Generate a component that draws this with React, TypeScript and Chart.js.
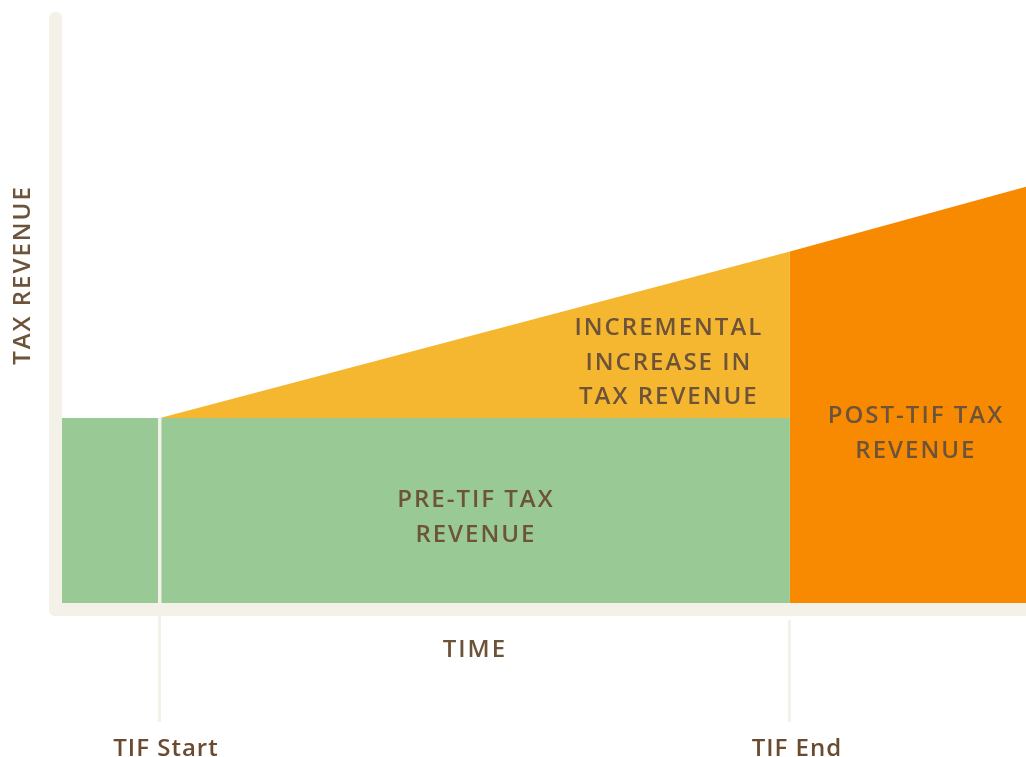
import React, { useEffect, useRef } from "react";
import { Chart, registerables } from "chart.js";

Chart.register(...registerables);

// Timeline (x) in years, revenue (y) in index units
const timeBounds = [0, 9.84];
const tifMarkers = [1, 7.43]; // TIF Start, TIF End
const markerLabels = ["TIF Start", "TIF End"];
const revenueMax = 326;
const baseRevenue = 100;
const preTifX = [0, 7.43];
const preTifY = [100, 100];
const incrementX = [1, 7.43];
const incrementY = [100, 190];
const postTifX = [7.43, 9.84];
const postTifY = [190, 225];
const incrementLabel = ["INCREMENTAL", "INCREASE IN", "TAX REVENUE"];
const preTifLabel = ["PRE-TIF TAX", "REVENUE"];
const postTifLabel = ["POST-TIF TAX", "REVENUE"];
const xAxisTitle = "TIME";
const yAxisTitle = "TAX REVENUE";

const GREEN = "#99c994";
const YELLOW = "#f6b730";
const ORANGE = "#f88a02";
const BEIGE = "#f4f1e9";
const TEXT = "#6d5339";
const TEXT_DARK = "#6a4b2f";
const FONT = "600 24px 'Open Sans'";

const toPoints = (xs: number[], ys: number[]) => xs.map((x, i) => ({ x, y: ys[i] }));

const decorPlugin = {
  id: "decor",
  beforeDatasetsDraw(chart: any) {
    const ctx = chart.ctx;
    ctx.save();
    ctx.fillStyle = "#ffffff";
    ctx.fillRect(0, 0, chart.width, chart.height);
    ctx.restore();
  },
  afterDatasetsDraw(chart: any) {
    const ctx: CanvasRenderingContext2D = chart.ctx;
    const xs = chart.scales.x;
    const ys = chart.scales.y;
    const area = chart.chartArea;
    const bottom = area.bottom;
    ctx.save();

    // separator at TIF start inside the green area
    const sx = xs.getPixelForValue(tifMarkers[0]);
    const ex = xs.getPixelForValue(tifMarkers[1]);
    ctx.fillStyle = BEIGE;
    ctx.fillRect(sx - 2, ys.getPixelForValue(baseRevenue), 3.5, bottom - ys.getPixelForValue(baseRevenue));

    // axes bars
    const axW = 13;
    ctx.beginPath();
    (ctx as any).roundRect(area.left - axW, 12, axW, bottom + axW - 12, [6, 6, 0, 6]);
    ctx.fill();
    ctx.beginPath();
    (ctx as any).roundRect(area.left - axW, bottom, chart.width - area.left + axW + 10, axW, [0, 0, 0, 6]);
    ctx.fill();

    // marker lines below axis
    ctx.fillRect(sx - 2, bottom + axW, 3, 106);
    ctx.fillRect(ex - 2, bottom + 17, 3, 102);

    // labels
    ctx.fillStyle = TEXT;
    ctx.font = FONT;
    (ctx as any).letterSpacing = "2px";
    ctx.textAlign = "center";
    ctx.textBaseline = "alphabetic";
    const lineH = 34.5;
    const drawLines = (lines: string[], cx: number, firstBase: number) => {
      lines.forEach((t, i) => ctx.fillText(t, cx, firstBase + i * lineH));
    };
    drawLines(preTifLabel, (sx + ex) / 2 + 1, 507);
    drawLines(incrementLabel, ex - 121, 335);
    drawLines(postTifLabel, ex + 126, 423);
    ctx.fillText(xAxisTitle, (sx + ex) / 2, 657);

    ctx.fillStyle = TEXT_DARK;
    (ctx as any).letterSpacing = "1px";
    ctx.fillText(markerLabels[0], sx + 6, 756);
    ctx.fillText(markerLabels[1], ex + 7, 756);

    ctx.fillStyle = TEXT;
    (ctx as any).letterSpacing = "2px";
    ctx.translate(23, 275);
    ctx.rotate(-Math.PI / 2);
    ctx.textBaseline = "middle";
    ctx.fillText(yAxisTitle, 0, 0);
    ctx.restore();
  },
};

export default function App() {
  const ref = useRef<HTMLCanvasElement>(null);
  useEffect(() => {
    document.body.style.margin = "0";
    const chart = new Chart(ref.current!, {
      type: "line",
      data: {
        datasets: [
          {
            label: "Pre-TIF tax revenue",
            data: toPoints(preTifX, preTifY),
            fill: "origin",
            backgroundColor: GREEN,
            borderWidth: 0,
            pointRadius: 0,
          },
          {
            label: "Incremental increase",
            data: toPoints(incrementX, incrementY),
            fill: { value: baseRevenue },
            backgroundColor: YELLOW,
            borderWidth: 0,
            pointRadius: 0,
          },
          {
            label: "Post-TIF tax revenue",
            data: toPoints(postTifX, postTifY),
            fill: "origin",
            backgroundColor: ORANGE,
            borderWidth: 0,
            pointRadius: 0,
          },
        ],
      },
      options: {
        animation: false,
        responsive: false,
        devicePixelRatio: 1,
        layout: { padding: { left: 62, right: 0, top: 0, bottom: 154 } },
        plugins: { legend: { display: false }, tooltip: { enabled: false } },
        elements: { line: { tension: 0 } },
        scales: {
          x: { type: "linear", min: timeBounds[0], max: timeBounds[1], display: false },
          y: { min: 0, max: revenueMax, display: false },
        },
      },
      plugins: [decorPlugin],
    });
    return () => chart.destroy();
  }, []);
  return (
    <div style={{ position: "fixed", left: 0, top: 0, width: 1026, height: 757 }}>
      <canvas ref={ref} width={1026} height={757} />
    </div>
  );
}
